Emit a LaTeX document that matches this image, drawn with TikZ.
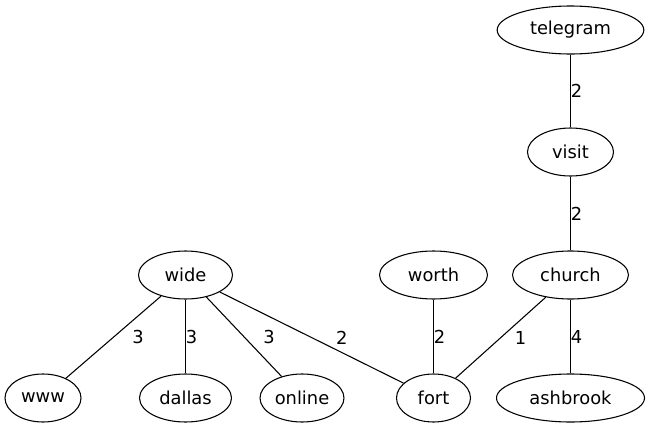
\documentclass[tikz,border=0pt]{standalone}
\usepackage{fontspec}
\setmainfont{DejaVu Sans}
\usetikzlibrary{shapes.geometric}
\usetikzlibrary{graphs}
\tikzset{vertex/.style={draw,ellipse,inner sep=0pt,minimum height=36pt,font=\fontsize{13.4}{16}\selectfont},
         wt/.style={inner sep=0pt,font=\fontsize{13.4}{16}\selectfont}}

\begin{document}
\begin{tikzpicture}[x=0.75pt,y=-0.75pt,every edge/.style={draw,line width=0.8pt},line width=0.8pt]
        \useasboundingbox (0,0) rectangle (651,429);

        \node (telegram) [vertex,minimum width=110pt]  at (570.5,30)         {telegram};
        \node (visit)    [vertex,minimum width=64.5pt] at (570.5,152)        {visit};
        \node (church)   [vertex,minimum width=87pt]   at (570.5,275)        {church};
        \node (ashbrook) [vertex,minimum width=111pt]  at (570.5,398)        {ashbrook};

        \node (fort)     [vertex,minimum width=55.5pt] at (433.5,398)        {fort};
        \node (worth)    [vertex,minimum width=81pt]   at (fort |- church)   {worth};

        \node (wide)     [vertex,minimum width=70.5pt] at (185.5,275)        {wide};
        \node (www)      [vertex,minimum width=57pt]   at (43,398)           {www};
        \node (dallas)   [vertex,minimum width=69pt]   at (wide |- fort)     {dallas};
        \node (online)   [vertex,minimum width=63pt]   at (302,398)          {online};

        \graph{
            (telegram) -- [edge node={node [wt,xshift=4.5pt]  {2}}] (visit);
            (visit)    -- [edge node={node [wt,xshift=4.5pt]  {2}}] (church);
            (church)   -- [edge node={node [wt,xshift=4.5pt]  {4}}] (ashbrook);
            (church)   -- [edge node={node [wt,xshift=15pt]   {1}}] (fort);
            (worth)    -- [edge node={node [wt,xshift=4.5pt]  {2}}] (fort);

            (wide) -- [edge node={node [wt,xshift=18.4pt] {3}}] (www);
            (wide) -- [edge node={node [wt,xshift=4.5pt]  {3}}] (dallas);
            (wide) -- [edge node={node [wt,xshift=18.8pt] {3}}] (online);
            (wide) -- [edge node={node [wt,xshift=22.5pt] {2}}] (fort);
        };
\end{tikzpicture}
\end{document}
